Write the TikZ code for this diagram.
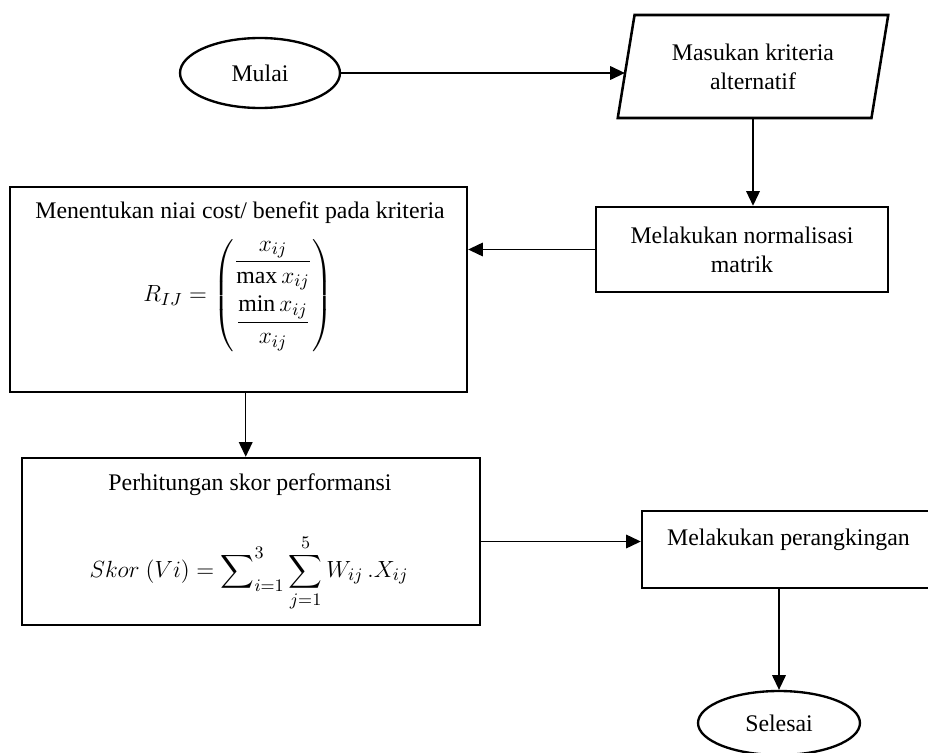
\documentclass[tikz,border=0pt]{standalone}
\usepackage{fontspec}
\setmainfont{Liberation Serif}
\usepackage{amsmath}
\usetikzlibrary{arrows.meta, shapes.geometric}

\begin{document}
\begin{tikzpicture}[>={Triangle[length=7.5pt, width=7pt]}, x=0.018cm, y=-0.018cm,
    font=\fontsize{12.2pt}{15pt}\selectfont,
    flow/.style={->, line width=0.6pt},
    terminal/.style={ellipse, draw, line width=1.2pt, inner sep=0pt},
    process/.style={rectangle, draw, line width=1.3pt, inner sep=0pt, align=center},
    inputbox/.style={trapezium, trapezium left angle=76, trapezium right angle=104,
        trapezium stretches=true, draw, line width=1.3pt, inner sep=0pt, align=center}]

    % Frame
    \clip (0,0) rectangle (928,753);

    % Start and input
    \node[terminal, minimum width=2.88cm, minimum height=1.26cm] (mulai) at (260,73) {Mulai};
    \node[inputbox, minimum width=4.896cm, minimum height=1.854cm] (input) at (753,66.5)
        {Masukan kriteria\\alternatif};

    % Normalisation
    \node[process, minimum width=5.256cm, minimum height=1.53cm] (norm) at (742,249.5)
        {Melakukan normalisasi\\matrik};

    % Cost / benefit box
    \node[process, minimum width=8.226cm, minimum height=3.69cm] (nilai) at (238.5,289.5) {};
    \node (nilaitxt) at (240,213) {Menentukan niai cost/ benefit pada kriteria};
    \node (nilaifrm) at (238,296)
        {$R_{IJ} = \left(\begin{array}{@{}c@{}} \dfrac{x_{ij}}{\max x_{ij}} \\ \noalign{\vskip 3pt}
        \dfrac{\min x_{ij}}{x_{ij}} \end{array}\right)$};

    % Score box
    \node[process, minimum width=8.244cm, minimum height=3.006cm] (hitung) at (251,541.5) {};
    \node (hitungtxt) at (250,485) {Perhitungan skor performansi};
    \node (hitungfrm) at (249,573)
        {$Skor\ (Vi) = \displaystyle\sum\nolimits_{i=1}^{3} \sum_{j=1}^{5} W_{ij}\,.X_{ij}$};

    % Ranking and end
    \node[process, minimum width=5.274cm, minimum height=1.386cm] (rank) at (788.5,549.5) {};
    \node (ranktxt) at (788.5,540) {Melakukan perangkingan};
    \node[terminal, minimum width=2.916cm, minimum height=1.152cm] (selesai) at (779,723) {Selesai};

    % Connectors
    \draw[flow] (mulai.east) -- (mulai.east -| input.west);
    \draw[flow] (input.south) -- (input.south |- norm.north);
    \draw[flow] (norm.west) -- (norm.west -| nilai.east);
    \draw[flow] ([xshift=0.13cm]nilai.south) -- ([xshift=0.13cm]nilai.south |- hitung.north);
    \draw[flow] (hitung.east) -- (hitung.east -| rank.west);
    \draw[flow] (selesai.north |- rank.south) -- (selesai.north);

\end{tikzpicture}
\end{document}
